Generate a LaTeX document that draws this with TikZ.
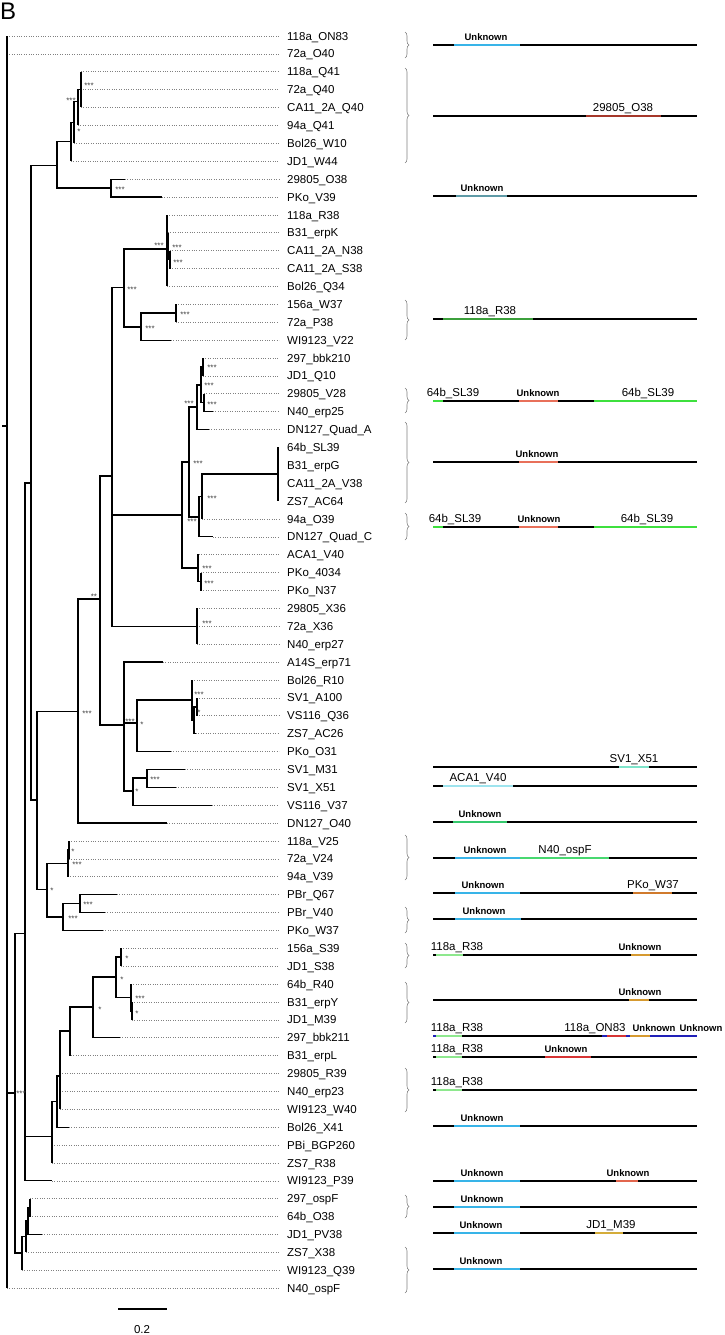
\documentclass[tikz,border=0pt]{standalone}
\usepackage{fontspec}
\setmainfont{Liberation Sans}
\usetikzlibrary{decorations.pathreplacing, calc}
\definecolor{unkblue}{HTML}{38B4E8}
\definecolor{rustred}{HTML}{A5372A}
\definecolor{slateteal}{HTML}{5E9AA6}
\definecolor{leafgreen}{HTML}{3CA03C}
\definecolor{limegreen}{HTML}{3EE03E}
\definecolor{salmonred}{HTML}{E8705A}
\definecolor{aquamint}{HTML}{7EE4CA}
\definecolor{palecyan}{HTML}{9EE4EE}
\definecolor{seagreen}{HTML}{34C86C}
\definecolor{ospgreen}{HTML}{48D870}
\definecolor{burntorange}{HTML}{D07A2C}
\definecolor{ochre}{HTML}{D69A30}
\definecolor{palegreen}{HTML}{8EE88E}
\definecolor{brightred}{HTML}{D63434}
\definecolor{deepblue}{HTML}{2020B8}
\definecolor{coral}{HTML}{E2664E}
\definecolor{mustard}{HTML}{D4AC3A}
\tikzset{
	branch/.style={
			line width=1.1pt,
			line join=miter
		},
	tipline/.style={
			draw=gray,
			line width=0.6pt,
			dash pattern=on 0.8pt off 1.6pt
		},
	leaflabel/.style={
			anchor=west,
			inner sep=0pt,
			text height=8.2pt,
			text depth=0pt,
			font=\fontsize{11.5}{12}\selectfont
		},
	support/.style={
			anchor=base,
			inner sep=0pt,
			text=darkgray,
			font=\fontsize{8}{8}\selectfont
		},
	genebar/.style={
			line width=1.7pt
		},
	seglabel/.style={
			anchor=base,
			inner sep=0pt,
			font=\fontsize{11.5}{12}\selectfont
		},
	unklabel/.style={
			anchor=base,
			inner sep=0pt,
			font=\bfseries\fontsize{9.5}{10}\selectfont
		},
	famgroup/.style={
			decorate,
			decoration={brace, amplitude=4pt},
			draw=gray,
			line width=0.6pt
		}
}
\begin{document}
\begin{tikzpicture}[x=1pt,y=-1pt]
\useasboundingbox (0,0) rectangle (725,1335);

\node[anchor=base west, inner sep=0pt, font=\fontsize{24}{24}\selectfont] (panel) at (0,20) {B};

% leaves: branch ends and labels
\coordinate (e1) at (7,36.0);      \node[leaflabel] (t1) at (287,36.0) {118a\_ON83};
\coordinate (e2) at (7,53.9);      \node[leaflabel] (t2) at (287,53.9) {72a\_O40};
\coordinate (e3) at (81,71.8);     \node[leaflabel] (t3) at (287,71.8) {118a\_Q41};
\coordinate (e4) at (78,89.7);     \node[leaflabel] (t4) at (287,89.7) {72a\_Q40};
\coordinate (e5) at (81,107.5);    \node[leaflabel] (t5) at (287,107.5) {CA11\_2A\_Q40};
\coordinate (e6) at (78,125.4);    \node[leaflabel] (t6) at (287,125.4) {94a\_Q41};
\coordinate (e7) at (74,143.3);    \node[leaflabel] (t7) at (287,143.3) {Bol26\_W10};
\coordinate (e8) at (71,161.2);    \node[leaflabel] (t8) at (287,161.2) {JD1\_W44};
\coordinate (e9) at (125,179.1);   \node[leaflabel] (t9) at (287,179.1) {29805\_O38};
\coordinate (e10) at (162,197.0);  \node[leaflabel] (t10) at (287,197.0) {PKo\_V39};
\coordinate (e11) at (167,214.9);  \node[leaflabel] (t11) at (287,214.9) {118a\_R38};
\coordinate (e12) at (168,232.7);  \node[leaflabel] (t12) at (287,232.7) {B31\_erpK};
\coordinate (e13) at (170,250.6);  \node[leaflabel] (t13) at (287,250.6) {CA11\_2A\_N38};
\coordinate (e14) at (170,268.5);  \node[leaflabel] (t14) at (287,268.5) {CA11\_2A\_S38};
\coordinate (e15) at (167,286.4);  \node[leaflabel] (t15) at (287,286.4) {Bol26\_Q34};
\coordinate (e16) at (176,304.3);  \node[leaflabel] (t16) at (287,304.3) {156a\_W37};
\coordinate (e17) at (176,322.2);  \node[leaflabel] (t17) at (287,322.2) {72a\_P38};
\coordinate (e18) at (171,340.1);  \node[leaflabel] (t18) at (287,340.1) {WI9123\_V22};
\coordinate (e19) at (203,358.0);  \node[leaflabel] (t19) at (287,358.0) {297\_bbk210};
\coordinate (e20) at (203,375.8);  \node[leaflabel] (t20) at (287,375.8) {JD1\_Q10};
\coordinate (e21) at (204,393.7);  \node[leaflabel] (t21) at (287,393.7) {29805\_V28};
\coordinate (e22) at (213,411.6);  \node[leaflabel] (t22) at (287,411.6) {N40\_erp25};
\coordinate (e23) at (209,429.5);  \node[leaflabel] (t23) at (287,429.5) {DN127\_Quad\_A};
\coordinate (e24) at (278,447.4);  \node[leaflabel] (t24) at (287,447.4) {64b\_SL39};
\coordinate (e25) at (278,465.3);  \node[leaflabel] (t25) at (287,465.3) {B31\_erpG};
\coordinate (e26) at (278,483.2);  \node[leaflabel] (t26) at (287,483.2) {CA11\_2A\_V38};
\coordinate (e27) at (278,501.0);  \node[leaflabel] (t27) at (287,501.0) {ZS7\_AC64};
\coordinate (e28) at (202,518.9);  \node[leaflabel] (t28) at (287,518.9) {94a\_O39};
\coordinate (e29) at (213,536.8);  \node[leaflabel] (t29) at (287,536.8) {DN127\_Quad\_C};
\coordinate (e30) at (199,554.7);  \node[leaflabel] (t30) at (287,554.7) {ACA1\_V40};
\coordinate (e31) at (201,572.6);  \node[leaflabel] (t31) at (287,572.6) {PKo\_4034};
\coordinate (e32) at (201,590.5);  \node[leaflabel] (t32) at (287,590.5) {PKo\_N37};
\coordinate (e33) at (197,608.4);  \node[leaflabel] (t33) at (287,608.4) {29805\_X36};
\coordinate (e34) at (197,626.3);  \node[leaflabel] (t34) at (287,626.3) {72a\_X36};
\coordinate (e35) at (197,644.2);  \node[leaflabel] (t35) at (287,644.2) {N40\_erp27};
\coordinate (e36) at (163,662.0);  \node[leaflabel] (t36) at (287,662.0) {A14S\_erp71};
\coordinate (e37) at (192,679.9);  \node[leaflabel] (t37) at (287,679.9) {Bol26\_R10};
\coordinate (e38) at (197,697.8);  \node[leaflabel] (t38) at (287,697.8) {SV1\_A100};
\coordinate (e39) at (197,715.7);  \node[leaflabel] (t39) at (287,715.7) {VS116\_Q36};
\coordinate (e40) at (196,733.6);  \node[leaflabel] (t40) at (287,733.6) {ZS7\_AC26};
\coordinate (e41) at (171,751.5);  \node[leaflabel] (t41) at (287,751.5) {PKo\_O31};
\coordinate (e42) at (185,769.4);  \node[leaflabel] (t42) at (287,769.4) {SV1\_M31};
\coordinate (e43) at (176,787.3);  \node[leaflabel] (t43) at (287,787.3) {SV1\_X51};
\coordinate (e44) at (212,805.2);  \node[leaflabel] (t44) at (287,805.2) {VS116\_V37};
\coordinate (e45) at (167,823.0);  \node[leaflabel] (t45) at (287,823.0) {DN127\_O40};
\coordinate (e46) at (69,840.9);   \node[leaflabel] (t46) at (287,840.9) {118a\_V25};
\coordinate (e47) at (69,858.8);   \node[leaflabel] (t47) at (287,858.8) {72a\_V24};
\coordinate (e48) at (68,876.7);   \node[leaflabel] (t48) at (287,876.7) {94a\_V39};
\coordinate (e49) at (117,894.6);  \node[leaflabel] (t49) at (287,894.6) {PBr\_Q67};
\coordinate (e50) at (105,912.5);  \node[leaflabel] (t50) at (287,912.5) {PBr\_V40};
\coordinate (e51) at (103,930.4);  \node[leaflabel] (t51) at (287,930.4) {PKo\_W37};
\coordinate (e52) at (121,948.3);  \node[leaflabel] (t52) at (287,948.3) {156a\_S39};
\coordinate (e53) at (121,966.1);  \node[leaflabel] (t53) at (287,966.1) {JD1\_S38};
\coordinate (e54) at (131,984.0);  \node[leaflabel] (t54) at (287,984.0) {64b\_R40};
\coordinate (e55) at (132,1001.9); \node[leaflabel] (t55) at (287,1001.9) {B31\_erpY};
\coordinate (e56) at (132,1019.8); \node[leaflabel] (t56) at (287,1019.8) {JD1\_M39};
\coordinate (e57) at (120,1037.7); \node[leaflabel] (t57) at (287,1037.7) {297\_bbk211};
\coordinate (e58) at (71,1055.6);  \node[leaflabel] (t58) at (287,1055.6) {B31\_erpL};
\coordinate (e59) at (60,1073.5);  \node[leaflabel] (t59) at (287,1073.5) {29805\_R39};
\coordinate (e60) at (60,1091.4);  \node[leaflabel] (t60) at (287,1091.4) {N40\_erp23};
\coordinate (e61) at (60,1109.3);  \node[leaflabel] (t61) at (287,1109.3) {WI9123\_W40};
\coordinate (e62) at (69,1127.1);  \node[leaflabel] (t62) at (287,1127.1) {Bol26\_X41};
\coordinate (e63) at (52,1145.0);  \node[leaflabel] (t63) at (287,1145.0) {PBi\_BGP260};
\coordinate (e64) at (52,1162.9);  \node[leaflabel] (t64) at (287,1162.9) {ZS7\_R38};
\coordinate (e65) at (52,1180.8);  \node[leaflabel] (t65) at (287,1180.8) {WI9123\_P39};
\coordinate (e66) at (30,1198.7);  \node[leaflabel] (t66) at (287,1198.7) {297\_ospF};
\coordinate (e67) at (30,1216.6);  \node[leaflabel] (t67) at (287,1216.6) {64b\_O38};
\coordinate (e68) at (42,1234.5);  \node[leaflabel] (t68) at (287,1234.5) {JD1\_PV38};
\coordinate (e69) at (26,1252.4);  \node[leaflabel] (t69) at (287,1252.4) {ZS7\_X38};
\coordinate (e70) at (22,1270.2);  \node[leaflabel] (t70) at (287,1270.2) {WI9123\_Q39};
\coordinate (e71) at (7,1288.1);   \node[leaflabel] (t71) at (287,1288.1) {N40\_ospF};

% dotted guides to the labels
\foreach \i in {1,...,23,28,29,...,71}
  \draw[tipline] (e\i) -- ([xshift=-8pt]t\i.west);

% internal nodes
\coordinate (stem) at (2,426);
\coordinate (root) at (7,426);
\coordinate (n15) at (15,1093);
\coordinate (n25) at (25,933.5);
\coordinate (n31) at (31,483);
\coordinate (n57) at (57,165.5);
\coordinate (n71) at (71,141.8);
\coordinate (n74) at (74,122.5);
\coordinate (n78) at (78,101.6);
\coordinate (n81) at (81,89.7);
\coordinate (npk) at (111,188);
\coordinate (n37) at (37,800);
\coordinate (nd) at (78,711.5);
\coordinate (n100) at (100,599);
\coordinate (n112) at (112,476);
\coordinate (n124) at (124,287.5);
\coordinate (n167) at (167,249);
\coordinate (nb) at (168,246);
\coordinate (nc) at (170,259.5);
\coordinate (n141) at (141,327);
\coordinate (n176) at (176,313);
\coordinate (n182) at (182,515);
\coordinate (n189) at (189,462);
\coordinate (n197) at (197,407);
\coordinate (n201) at (201,385);
\coordinate (n203) at (203,367);
\coordinate (n204) at (204,402.6);
\coordinate (n200) at (199,517);
\coordinate (n202) at (202,496.5);
\coordinate (nsl) at (278,474);
\coordinate (n199) at (198,568);
\coordinate (npk2) at (201,581.5);
\coordinate (nx) at (197,626.3);
\coordinate (n124b) at (124,725);
\coordinate (n137) at (137,723);
\coordinate (n192) at (192,700);
\coordinate (ns) at (194,720);
\coordinate (nt) at (197,707);
\coordinate (n133) at (133,791);
\coordinate (n147) at (147,778);
\coordinate (n47) at (47,889.5);
\coordinate (n68) at (68,863.5);
\coordinate (n69) at (69,850);
\coordinate (n63) at (63,917);
\coordinate (n80) at (80,903.5);
\coordinate (n52) at (52,1136.6);
\coordinate (n57b) at (57,1101.6);
\coordinate (n60) at (60,1076);
\coordinate (n70) at (70,1031);
\coordinate (n93) at (93,1007);
\coordinate (n116) at (116,977);
\coordinate (n121) at (121,957);
\coordinate (n131) at (131,997.5);
\coordinate (n132) at (132,1011);
\coordinate (n22) at (22,1253);
\coordinate (n26) at (26,1236.7);
\coordinate (n28) at (28,1221);
\coordinate (n30) at (30,1207.6);

% branches
\draw[branch] (stem) -- (root);
\draw[branch] (root) |- (e1) (root) |- (e2) (root) |- (n15) (root) |- (e71);
\draw[branch] (n15) |- (n25) (n15) |- (n22);
\draw[branch] (n25) |- (n31) (n25) |- (n52) (n25) |- (e65);
\draw[branch] (n31) |- (n57) (n31) |- (n37);
\draw[branch] (n57) |- (n71) (n57) |- (npk);
\draw[branch] (n71) |- (n74) (n71) |- (e8);
\draw[branch] (n74) |- (n78) (n74) |- (e7);
\draw[branch] (n78) |- (n81) (n78) |- (e4) (n78) |- (e6);
\draw[branch] (n81) |- (e3) (n81) |- (e5);
\draw[branch] (npk) |- (e9) (npk) |- (e10);
\draw[branch] (n37) |- (nd) (n37) |- (n47);
\draw[branch] (nd) |- (n100) (nd) |- (e45);
\draw[branch] (n100) |- (n112) (n100) |- (n124b);
\draw[branch] (n112) |- (n124) (n112) |- (n182) (n112) |- (nx);
\draw[branch] (n124) |- (n167) (n124) |- (n141);
\draw[branch] (n167) |- (e11) (n167) |- (nb) (n167) |- (e15);
\draw[branch] (nb) |- (e12) (nb) |- (nc);
\draw[branch] (nc) |- (e13) (nc) |- (e14);
\draw[branch] (n141) |- (n176) (n141) |- (e18);
\draw[branch] (n176) |- (e16) (n176) |- (e17);
\draw[branch] (n182) |- (n189) (n182) |- (n199);
\draw[branch] (n189) |- (n197) (n189) |- (n200);
\draw[branch] (n197) |- (n201) (n197) |- (e23);
\draw[branch] (n201) |- (n203) (n201) |- (n204);
\draw[branch] (n203) |- (e19) (n203) |- (e20);
\draw[branch] (n204) |- (e21) (n204) |- (e22);
\draw[branch] (n200) |- (n202) (n200) |- (e29);
\draw[branch] (n202) |- (nsl) (n202) |- (e28);
\draw[branch] (nsl) |- (e24) (nsl) |- (e25) (nsl) |- (e26) (nsl) |- (e27);
\draw[branch] (n199) |- (e30) (n199) |- (npk2);
\draw[branch] (npk2) |- (e31) (npk2) |- (e32);
\draw[branch] (nx) |- (e33) (nx) |- (e34) (nx) |- (e35);
\draw[branch] (n124b) |- (e36) (n124b) |- (n137) (n124b) |- (n133);
\draw[branch] (n137) |- (n192) (n137) |- (e41);
\draw[branch] (n192) |- (e37) (n192) |- (ns);
\draw[branch] (ns) |- (nt) (ns) |- (e40);
\draw[branch] (nt) |- (e38) (nt) |- (e39);
\draw[branch] (n133) |- (n147) (n133) |- (e44);
\draw[branch] (n147) |- (e42) (n147) |- (e43);
\draw[branch] (n47) |- (n68) (n47) |- (n63);
\draw[branch] (n68) |- (n69) (n68) |- (e48);
\draw[branch] (n69) |- (e46) (n69) |- (e47);
\draw[branch] (n63) |- (n80) (n63) |- (e51);
\draw[branch] (n80) |- (e49) (n80) |- (e50);
\draw[branch] (n52) |- (n57b) (n52) |- (e63) (n52) |- (e64);
\draw[branch] (n57b) |- (n60) (n57b) |- (e62);
\draw[branch] (n60) |- (n70) (n60) |- (e59) (n60) |- (e60) (n60) |- (e61);
\draw[branch] (n70) |- (n93) (n70) |- (e58);
\draw[branch] (n93) |- (n116) (n93) |- (e57);
\draw[branch] (n116) |- (n121) (n116) |- (n131);
\draw[branch] (n121) |- (e52) (n121) |- (e53);
\draw[branch] (n131) |- (e54) (n131) |- (n132);
\draw[branch] (n132) |- (e55) (n132) |- (e56);
\draw[branch] (n22) |- (n26) (n22) |- (e70);
\draw[branch] (n26) |- (n28) (n26) |- (e69);
\draw[branch] (n28) |- (n30) (n28) |- (e68);
\draw[branch] (n30) |- (e66) (n30) |- (e67);

% bootstrap support
\node[support] (s81) at (89,88.5) {***};
\node[support] (s78) at (71,103.5) {***};
\node[support] (s74) at (79,134.5) {*};
\node[support] (spk) at (120,192.5) {***};
\node[support] (s167) at (159,248.5) {***};
\node[support] (sb) at (177,250.5) {***};
\node[support] (sc) at (178,265.5) {***};
\node[support] (s124) at (132,292.5) {***};
\node[support] (s141) at (150,331.5) {***};
\node[support] (s176) at (185,317.5) {***};
\node[support] (s203) at (212,370.5) {***};
\node[support] (s201) at (209,388.5) {***};
\node[support] (s204) at (212,407.5) {***};
\node[support] (s197) at (189,406.5) {***};
\node[support] (s189) at (198,466.5) {***};
\node[support] (s202) at (212,501.5) {***};
\node[support] (s200) at (192,524.5) {***};
\node[support] (s199) at (207,571.5) {***};
\node[support] (spk2) at (209,586.5) {***};
\node[support] (sx) at (207,626.5) {***};
\node[support] (s100) at (94,599.5) {**};
\node[support] (sd) at (87,716.5) {***};
\node[support] (s124b) at (130,724.5) {***};
\node[support] (s137) at (142,727.5) {*};
\node[support] (snt) at (199,697.5) {***};
\node[support] (sns) at (199,715.5) {*};
\node[support] (s147) at (155,782.5) {***};
\node[support] (s133) at (137,794.5) {*};
\node[support] (s69) at (73,854.5) {*};
\node[support] (s68) at (77,867.5) {***};
\node[support] (s47) at (52,893.5) {*};
\node[support] (s80) at (88,907.5) {***};
\node[support] (s63) at (73,921.5) {***};
\node[support] (s121) at (127,961.5) {*};
\node[support] (s116) at (122,982.5) {*};
\node[support] (s131) at (140,1001.5) {***};
\node[support] (s132) at (137,1016.5) {*};
\node[support] (s93) at (100,1012.5) {*};
\node[support] (s15) at (21,1096.5) {***};

% scale bar
\coordinate (sbl) at (118,1309);
\coordinate (sbr) at (167,1309);
\draw[branch] (sbl) -- (sbr);
\node[seglabel] (sbtext) at (142,1333) {0.2};

% groups
\draw[famgroup] (405,32) -- (405,58);
\draw[famgroup] (405,68) -- (405,163);
\draw[famgroup] (405,300) -- (405,340);
\draw[famgroup] (405,388) -- (405,413);
\draw[famgroup] (405,422) -- (405,503);
\draw[famgroup] (405,513) -- (405,540);
\draw[famgroup] (405,835) -- (405,880);
\draw[famgroup] (405,907) -- (405,933);
\draw[famgroup] (405,943) -- (405,968);
\draw[famgroup] (405,982) -- (405,1023);
\draw[famgroup] (405,1068) -- (405,1112);
\draw[famgroup] (405,1195) -- (405,1218);
\draw[famgroup] (405,1247) -- (405,1293);

% gene maps
\foreach \y in {45,116,196,319,401,462,527,767,786,822,858,893,919,955,1000,1036,1057,1090,1126,1181,1207,1233,1269}
  \draw[genebar] (433,\y) -- (697,\y);

\draw[genebar, unkblue] (454,45) -- (520,45);
\node[unklabel] (u1) at (486,40.5) {Unknown};

\draw[genebar, rustred] (586,116) -- (661,116);
\node[seglabel] (g1) at (623,111.5) {29805\_O38};

\draw[genebar, slateteal] (456,196) -- (507,196);
\node[unklabel] (u2) at (482,191.5) {Unknown};

\draw[genebar, leafgreen] (443,319) -- (533,319);
\node[seglabel] (g2) at (490,314.5) {118a\_R38};

\draw[genebar, limegreen] (433,401) -- (443,401);
\draw[genebar, salmonred] (519,401) -- (558,401);
\draw[genebar, limegreen] (594,401) -- (697,401);
\node[seglabel] (g3) at (453,396.5) {64b\_SL39};
\node[unklabel] (u3) at (538,396.5) {Unknown};
\node[seglabel] (g4) at (648,396.5) {64b\_SL39};

\draw[genebar, salmonred] (519,462) -- (558,462);
\node[unklabel] (u4) at (537,457.5) {Unknown};

\draw[genebar, limegreen] (433,527) -- (443,527);
\draw[genebar, salmonred] (519,527) -- (558,527);
\draw[genebar, limegreen] (594,527) -- (697,527);
\node[seglabel] (g5) at (455,522.5) {64b\_SL39};
\node[unklabel] (u5) at (539,522.5) {Unknown};
\node[seglabel] (g6) at (647,522.5) {64b\_SL39};

\draw[genebar, aquamint] (619,767) -- (649,767);
\node[seglabel] (g7) at (634,762.5) {SV1\_X51};

\draw[genebar, palecyan] (443,786) -- (513,786);
\node[seglabel] (g8) at (478,781.5) {ACA1\_V40};

\draw[genebar, seagreen] (453,822) -- (507,822);
\node[unklabel] (u6) at (480,817.5) {Unknown};

\draw[genebar, unkblue] (455,858) -- (520,858);
\draw[genebar, ospgreen] (520,858) -- (609,858);
\node[unklabel] (u7) at (485,853.5) {Unknown};
\node[seglabel] (g9) at (565,853.5) {N40\_ospF};

\draw[genebar, unkblue] (455,893) -- (520,893);
\draw[genebar, burntorange] (633,893) -- (672,893);
\node[unklabel] (u8) at (483,888.5) {Unknown};
\node[seglabel] (g10) at (653,888.5) {PKo\_W37};

\draw[genebar, unkblue] (455,919) -- (521,919);
\node[unklabel] (u9) at (484,914.5) {Unknown};

\draw[genebar, palegreen] (436,955) -- (463,955);
\draw[genebar, ochre] (631,955) -- (650,955);
\node[seglabel] (g11) at (457,950.5) {118a\_R38};
\node[unklabel] (u10) at (640,950.5) {Unknown};

\draw[genebar, ochre] (629,1000) -- (649,1000);
\node[unklabel] (u11) at (640,995.5) {Unknown};

\draw[genebar, deepblue] (433,1036) -- (436,1036);
\draw[genebar, palegreen] (436,1036) -- (462,1036);
\draw[genebar, deepblue] (602,1036) -- (607,1036);
\draw[genebar, brightred] (607,1036) -- (626,1036);
\draw[genebar, deepblue] (626,1036) -- (630,1036);
\draw[genebar, ochre] (630,1036) -- (650,1036);
\draw[genebar, deepblue] (650,1036) -- (697,1036);
\node[seglabel] (g12) at (457,1031.5) {118a\_R38};
\node[seglabel] (g13) at (595,1031.5) {118a\_ON83};
\node[unklabel] (u12) at (654,1031.5) {Unknown};
\node[unklabel] (u13) at (701,1031.5) {Unknown};

\draw[genebar, palegreen] (436,1057) -- (462,1057);
\draw[genebar, brightred] (545,1057) -- (591,1057);
\node[seglabel] (g14) at (457,1052.5) {118a\_R38};
\node[unklabel] (u14) at (566,1052.5) {Unknown};

\draw[genebar, palegreen] (436,1090) -- (462,1090);
\node[seglabel] (g15) at (457,1085.5) {118a\_R38};

\draw[genebar, unkblue] (454,1126) -- (520,1126);
\node[unklabel] (u15) at (482,1121.5) {Unknown};

\draw[genebar, unkblue] (454,1181) -- (520,1181);
\draw[genebar, coral] (616,1181) -- (638,1181);
\node[unklabel] (u16) at (482,1176.5) {Unknown};
\node[unklabel] (u17) at (628,1176.5) {Unknown};

\draw[genebar, unkblue] (454,1207) -- (520,1207);
\node[unklabel] (u18) at (482,1202.5) {Unknown};

\draw[genebar, unkblue] (454,1233) -- (520,1233);
\draw[genebar, mustard] (595,1233) -- (623,1233);
\node[unklabel] (u19) at (481,1228.5) {Unknown};
\node[seglabel] (g16) at (611,1228.5) {JD1\_M39};

\draw[genebar, unkblue] (454,1269) -- (520,1269);
\node[unklabel] (u20) at (481,1264.5) {Unknown};

\end{tikzpicture}
\end{document}
